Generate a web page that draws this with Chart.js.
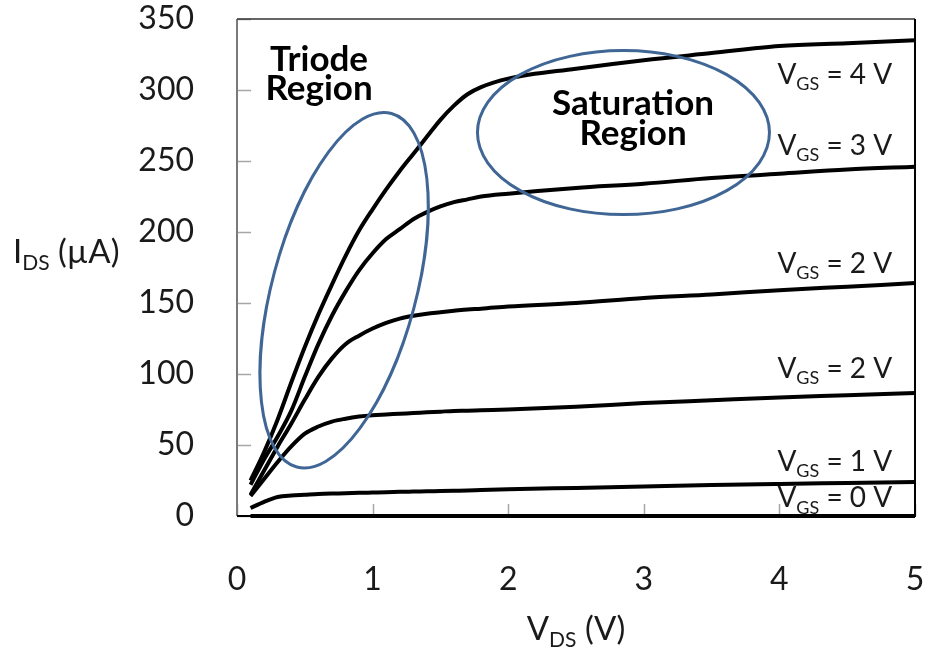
<!DOCTYPE html>
<html>
<head>
<meta charset="utf-8">
<title>MOSFET output characteristics</title>
<script src="https://cdn.jsdelivr.net/npm/chart.js@4.4.0/dist/chart.umd.min.js"></script>
<style>
  html, body { margin: 0; padding: 0; background: #fff; }
  canvas { display: block; }
</style>
</head>
<body>
<canvas id="ivChart" width="928" height="650"></canvas>
<script>
// drain-source voltage samples (V)
const vds = [0.1, 0.2, 0.3, 0.4, 0.5, 0.6, 0.7, 0.8, 0.9, 1.0, 1.1, 1.2, 1.3, 1.4, 1.5, 1.6, 1.7, 1.8, 2.0, 2.5, 3.0, 3.5, 4.0, 4.5, 5.0];

// drain current per curve (uA), top to bottom
const ids4V  = [25, 45, 68, 94, 119, 142, 163, 183, 201, 216, 230, 243, 255, 267, 279, 289, 297, 302, 308, 315, 321, 326, 331, 333, 335];
const ids3V  = [22, 40, 56, 74, 98, 121, 141, 158, 173, 185, 195, 202, 209, 214, 218, 221, 223, 225, 227, 231, 234, 238, 241, 244, 246];
const ids2Va = [15, 32, 49, 65, 82, 98, 111, 121, 127, 132, 136, 139, 141, 142.5, 143.5, 144.5, 145.5, 146, 147.5, 150, 153.5, 156, 159, 161.5, 164];
const ids2Vb = [14, 26, 38, 49, 58, 63, 66.5, 68.5, 70, 71, 71.5, 72, 72.5, 73, 73.5, 74, 74.2, 74.5, 75, 77, 79.5, 81.5, 83.5, 85, 86.6];
const ids1V  = [5.6, 10, 13.4, 14.5, 15, 15.5, 15.8, 16, 16.3, 16.5, 16.7, 17, 17.2, 17.4, 17.6, 17.8, 18, 18.3, 18.8, 19.8, 20.8, 21.8, 22.6, 23.3, 24];
const ids0V  = [0, 0, 0, 0, 0, 0, 0, 0, 0, 0, 0, 0, 0, 0, 0, 0, 0, 0, 0, 0, 0, 0, 0, 0, 0];

// curve labels and the current their baseline sits at
const curveLabels = ['4', '3', '2', '2', '1', '0'];
const labelLevels = [304, 254, 171, 97, 32, 6];

const xTicks = [0, 1, 2, 3, 4, 5];
const yTicks = [0, 50, 100, 150, 200, 250, 300, 350];

const FONT = 'Lato, "Open Sans", sans-serif';
const TEXT = '#1a1a1a';
const BLUE = '#3f6695';

const series = [ids4V, ids3V, ids2Va, ids2Vb, ids1V, ids0V];

function pts(arr){ return vds.map((v, i) => ({ x: v, y: arr[i] })); }

// draws text made of normal and subscript runs, returns width
function drawRuns(ctx, runs, x, y, size, align){
  const subSize = Math.round(size * 0.64);
  let total = 0;
  runs.forEach(r => {
    ctx.font = (r.sub ? subSize : size) + 'px ' + FONT;
    total += ctx.measureText(r.t).width;
  });
  let cx = x;
  if(align === 'center') cx = x - total / 2;
  if(align === 'right') cx = x - total;
  ctx.textAlign = 'left';
  ctx.textBaseline = 'alphabetic';
  runs.forEach(r => {
    ctx.font = (r.sub ? subSize : size) + 'px ' + FONT;
    ctx.fillText(r.t, cx, r.sub ? y + size * 0.22 : y);
    cx += ctx.measureText(r.t).width;
  });
  return total;
}

const decor = {
  id: 'decor',
  beforeDatasetsDraw(chart){
    const { ctx, chartArea: a, scales: { x, y } } = chart;
    ctx.save();

    // inward tick marks
    ctx.strokeStyle = '#a6a6a6';
    ctx.lineWidth = 1.5;
    yTicks.forEach(t => {
      const py = Math.round(y.getPixelForValue(t)) + 0.5;
      ctx.beginPath(); ctx.moveTo(a.left, py); ctx.lineTo(a.left + 14, py); ctx.stroke();
    });
    xTicks.forEach(t => {
      const px = Math.round(x.getPixelForValue(t)) + 0.5;
      ctx.beginPath(); ctx.moveTo(px, a.bottom); ctx.lineTo(px, a.bottom - 12); ctx.stroke();
    });

    // plot frame
    ctx.lineWidth = 2;
    ctx.strokeStyle = '#7a7a7a';
    ctx.beginPath(); ctx.moveTo(a.left, a.bottom); ctx.lineTo(a.left, a.top); ctx.stroke();
    ctx.strokeStyle = '#333';
    ctx.lineWidth = 1.5;
    ctx.beginPath(); ctx.moveTo(a.left, a.top); ctx.lineTo(a.right, a.top); ctx.stroke();
    ctx.strokeStyle = '#000';
    ctx.lineWidth = 2;
    ctx.beginPath(); ctx.moveTo(a.right, a.top); ctx.lineTo(a.right, a.bottom); ctx.lineTo(a.left, a.bottom); ctx.stroke();

    // V_GS labels, clipped to the plot
    ctx.beginPath(); ctx.rect(a.left, a.top, a.right - a.left, a.bottom - a.top); ctx.clip();
    ctx.fillStyle = TEXT;
    curveLabels.forEach((v, i) => {
      const py = y.getPixelForValue(labelLevels[i]);
      drawRuns(ctx, [{ t: 'V' }, { t: 'GS', sub: true }, { t: ' = ' + v + ' V' }], x.getPixelForValue(4.0) - 2, py, 28, 'left');
    });
    ctx.restore();
  },
  afterDatasetsDraw(chart){
    const { ctx, chartArea: a, scales: { x, y } } = chart;
    ctx.save();

    // region outlines
    ctx.strokeStyle = BLUE;
    ctx.lineWidth = 3;
    ctx.beginPath();
    ctx.ellipse(x.getPixelForValue(0.79), y.getPixelForValue(159), 72, 183, 15 * Math.PI / 180, 0, Math.PI * 2);
    ctx.stroke();
    ctx.beginPath();
    ctx.ellipse(x.getPixelForValue(2.85), y.getPixelForValue(270), 146, 82, 0, 0, Math.PI * 2);
    ctx.stroke();

    // region names
    ctx.fillStyle = '#000';
    ctx.font = 'bold 35px ' + FONT;
    ctx.textAlign = 'center';
    ctx.textBaseline = 'alphabetic';
    ctx.fillText('Triode', 319, 71);
    ctx.fillText('Region', 319, 100);
    ctx.fillText('Saturation', 633, 115);
    ctx.fillText('Region', 633, 145);

    // axis titles
    ctx.fillStyle = TEXT;
    drawRuns(ctx, [{ t: 'I' }, { t: 'DS', sub: true }, { t: ' (\u00b5A)' }], 13, 263, 33, 'left');
    drawRuns(ctx, [{ t: 'V' }, { t: 'DS', sub: true }, { t: ' (V)' }], (a.left + a.right) / 2, 640, 33, 'center');
    ctx.restore();
  }
};

new Chart(document.getElementById('ivChart'), {
  type: 'line',
  data: {
    datasets: series.map(s => ({
      data: pts(s),
      borderColor: '#000',
      borderWidth: 4,
      pointRadius: 0,
      cubicInterpolationMode: 'monotone',
      clip: false
    }))
  },
  options: {
    responsive: false,
    animation: false,
    devicePixelRatio: 1,
    layout: { padding: { top: 19, right: 13, left: 0, bottom: 0 } },
    plugins: { legend: { display: false }, tooltip: { enabled: false } },
    scales: {
      x: {
        type: 'linear', min: 0, max: 5,
        afterFit: s => { s.height = 134; s.paddingLeft = 0; s.paddingRight = 0; },
        grid: { display: false }, border: { display: false },
        ticks: { stepSize: 1, padding: 36, color: TEXT, font: { family: FONT, size: 32 } }
      },
      y: {
        type: 'linear', min: 0, max: 350,
        afterFit: s => { s.width = 237; s.paddingTop = 0; s.paddingBottom = 0; },
        grid: { display: false }, border: { display: false },
        ticks: { stepSize: 50, padding: 35, color: TEXT, font: { family: FONT, size: 32 } }
      }
    }
  },
  plugins: [decor]
});
</script>
</body>
</html>
